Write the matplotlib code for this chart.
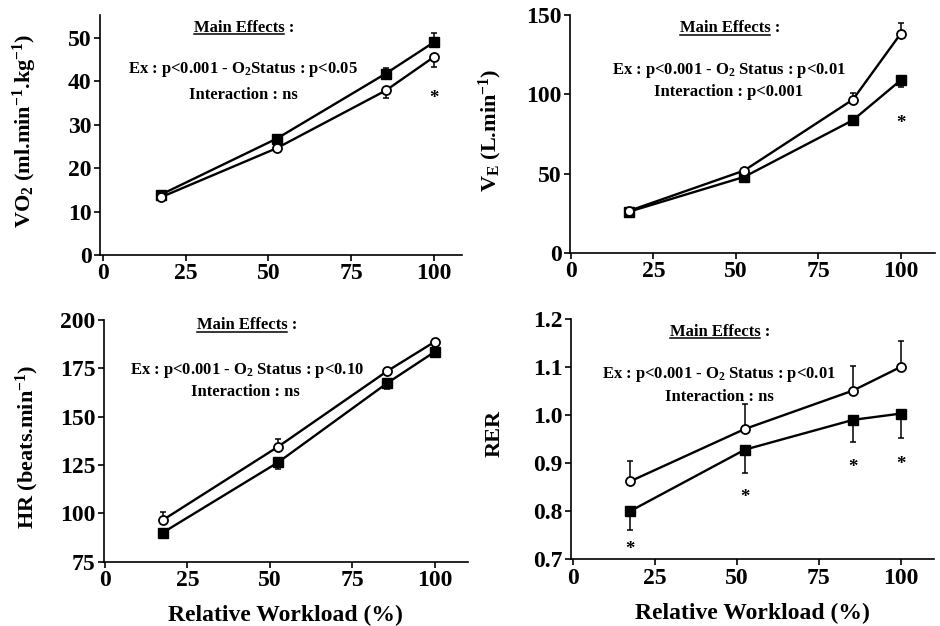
import matplotlib
matplotlib.use('Agg')
import matplotlib.pyplot as plt
from matplotlib.lines import Line2D
from matplotlib.ticker import FormatStrFormatter

plt.rcParams['font.family'] = 'Liberation Serif'
plt.rcParams['font.weight'] = 'bold'
plt.rcParams['mathtext.fontset'] = 'custom'
plt.rcParams['mathtext.rm'] = 'Liberation Serif:bold'
plt.rcParams['mathtext.it'] = 'Liberation Serif:bold'
plt.rcParams['mathtext.bf'] = 'Liberation Serif:bold'

# relative workload (%)
workload = [17.5, 52.5, 85.5, 100]
xticks = [0, 25, 50, 75, 100]

# VO2 (ml.min-1.kg-1)
vo2_filled = [13.9, 26.8, 41.8, 49.0]
vo2_filled_err = [0.4, 0.8, 1.2, 2.2]
vo2_open = [13.3, 24.6, 37.9, 45.6]
vo2_open_err = [0.3, 0.6, 1.8, 2.2]
vo2_stars_x = [100]
vo2_stars_y = [36.0]

# VE (L.min-1)
ve_filled = [26.0, 48.0, 83.8, 109.0]
ve_filled_err = [1.0, 1.5, 2.0, 4.5]
ve_open = [26.5, 52.0, 96.8, 138.4]
ve_open_err = [0.8, 1.0, 4.0, 6.5]
ve_stars_x = [100]
ve_stars_y = [81.5]

# HR (beats.min-1)
hr_filled = [90.0, 126.4, 167.3, 183.6]
hr_filled_err = [1.5, 3.5, 3.0, 1.5]
hr_open = [96.5, 134.5, 173.5, 188.8]
hr_open_err = [4.0, 4.0, 1.5, 1.5]

# RER
rer_filled = [0.800, 0.928, 0.990, 1.003]
rer_filled_err = [0.040, 0.048, 0.047, 0.051]
rer_open = [0.862, 0.971, 1.051, 1.100]
rer_open_err = [0.043, 0.052, 0.052, 0.055]
rer_stars_x = [17.5, 52.5, 85.5, 100]
rer_stars_y = [0.720, 0.828, 0.890, 0.897]

fig = plt.figure(figsize=(9.4, 6.26), dpi=100)

panels = [
    dict(rect=[0.1064, 0.5927, 0.385, 0.3834], xlim=(-0.9, 108.5), ylim=(0, 55.3),
         yticks=[0, 10, 20, 30, 40, 50], fmt='%d',
         filled=vo2_filled, ferr=vo2_filled_err, fdir='up',
         open_=vo2_open, oerr=vo2_open_err, odir='down',
         stars=(vo2_stars_x, vo2_stars_y),
         ylabel='VO$_2$ (ml.min$^{-1}$.kg$^{-1}$)', ylab_xy=(25, 131),
         ex='Ex : p<0.001 - O$_2$Status : p<0.05', inter='Interaction : ns',
         txt=[(0.398, 0.946), (0.394, 0.771), (0.396, 0.667)], xlabel=False),
    dict(rect=[0.6064, 0.5958, 0.388, 0.380], xlim=(-0.3, 110.3), ylim=(0, 150),
         yticks=[0, 50, 100, 150], fmt='%d',
         filled=ve_filled, ferr=ve_filled_err, fdir='down',
         open_=ve_open, oerr=ve_open_err, odir='up',
         stars=(ve_stars_x, ve_stars_y),
         ylabel='V$_{\\mathrm{E}}$ (L.min$^{-1}$)', ylab_xy=(490, 130),
         ex='Ex : p<0.001 - O$_2$ Status : p<0.01', inter='Interaction : p<0.001',
         txt=[(0.438, 0.945), (0.436, 0.769), (0.436, 0.676)], xlabel=False),
    dict(rect=[0.1106, 0.1027, 0.387, 0.386], xlim=(-0.3, 110), ylim=(75, 200),
         yticks=[75, 100, 125, 150, 175, 200], fmt='%d',
         filled=hr_filled, ferr=hr_filled_err, fdir='down',
         open_=hr_open, oerr=hr_open_err, odir='up',
         stars=None,
         ylabel='HR (beats.min$^{-1}$)', ylab_xy=(27, 447),
         ex='Ex : p<0.001 - O$_2$ Status : p<0.10', inter='Interaction : ns',
         txt=[(0.393, 0.979), (0.393, 0.793), (0.390, 0.702)], xlabel=True),
    dict(rect=[0.6071, 0.1066, 0.387, 0.384], xlim=(-0.6, 110.3), ylim=(0.7, 1.2),
         yticks=[0.7, 0.8, 0.9, 1.0, 1.1, 1.2], fmt='%.1f',
         filled=rer_filled, ferr=rer_filled_err, fdir='down',
         open_=rer_open, oerr=rer_open_err, odir='up',
         stars=(rer_stars_x, rer_stars_y),
         ylabel='RER', ylab_xy=(495, 433),
         ex='Ex : p<0.001 - O$_2$ Status : p<0.01', inter='Interaction : ns',
         txt=[(0.41, 0.947), (0.407, 0.767), (0.41, 0.676)], xlabel=True),
]


def one_sided(err, direction):
    zeros = [0] * len(err)
    return [zeros, err] if direction == 'up' else [err, zeros]


axes = []
for p in panels:
    ax = fig.add_axes(p['rect'])
    axes.append(ax)
    ax.errorbar(workload, p['filled'], yerr=one_sided(p['ferr'], p['fdir']),
                fmt='none', ecolor='black', elinewidth=1.1, capsize=2.3,
                capthick=1.1, zorder=2)
    ax.errorbar(workload, p['open_'], yerr=one_sided(p['oerr'], p['odir']),
                fmt='none', ecolor='black', elinewidth=1.1, capsize=2.3,
                capthick=1.1, zorder=2)
    ax.plot(workload, p['filled'], color='black', lw=1.7, marker='s', ms=6.5,
            mfc='black', mec='black', zorder=3)
    ax.plot(workload, p['open_'], color='black', lw=1.7, marker='o', ms=6.5,
            mfc='white', mec='black', mew=1.3, zorder=4)
    if p['stars']:
        for sx, sy in zip(*p['stars']):
            ax.text(sx, sy, '*', ha='center', va='center', fontsize=13.5,
                    fontweight='bold')
    ax.set_xlim(*p['xlim'])
    ax.set_ylim(*p['ylim'])
    ax.set_xticks(xticks)
    ax.set_yticks(p['yticks'])
    ax.yaxis.set_major_formatter(FormatStrFormatter(p['fmt']))
    for s in ['top', 'right']:
        ax.spines[s].set_visible(False)
    for s in ['left', 'bottom']:
        ax.spines[s].set_linewidth(1.2)
    ax.tick_params(direction='out', length=4, width=1.2, labelsize=17, pad=2)
    for lab in ax.get_xticklabels() + ax.get_yticklabels():
        lab.set_fontweight('bold')

    (mx, my), (ex_x, ex_y), (ix, iy) = p['txt']
    p['main_text'] = ax.text(mx, my, 'Main Effects :', transform=ax.transAxes,
                             ha='center', va='center', fontsize=12)
    ax.text(ex_x, ex_y, p['ex'], transform=ax.transAxes, ha='center',
            va='center', fontsize=12)
    ax.text(ix, iy, p['inter'], transform=ax.transAxes, ha='center',
            va='center', fontsize=12)

    fig.text(p['ylab_xy'][0] / 940, 1 - p['ylab_xy'][1] / 626, p['ylabel'],
             rotation=90, ha='center', va='center', fontsize=16)
    if p['xlabel']:
        ax.set_xlabel('Relative Workload (%)', fontsize=17, labelpad=10,
                      fontweight='bold')

# underline "Main Effects"
fig.canvas.draw()
renderer = fig.canvas.get_renderer()
for ax, p in zip(axes, panels):
    full = p['main_text'].get_window_extent(renderer)
    tmp = fig.text(0, 0, 'Main Effects', fontsize=12)
    w = tmp.get_window_extent(renderer).width
    tmp.remove()
    y = full.y0 + 1.5
    fig.add_artist(Line2D([full.x0 / 940, (full.x0 + w) / 940],
                          [y / 626, y / 626], color='black', lw=1.1))

fig.savefig('out.png', dpi=100)
